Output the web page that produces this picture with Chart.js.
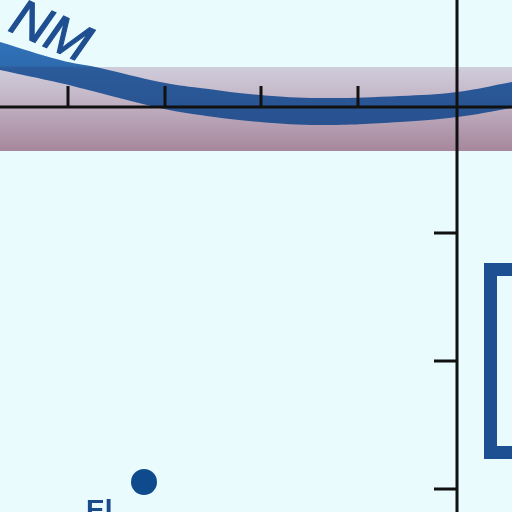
<!DOCTYPE html>
<html>
<head>
<meta charset="utf-8">
<script src="https://cdn.jsdelivr.net/npm/chart.js@4/dist/chart.umd.min.js"></script>
<style>
  html, body { margin: 0; padding: 0; background: #e9fbfd; }
  #wrap { width: 512px; height: 512px; }
</style>
</head>
<body>
<div id="wrap"><canvas id="chart" width="512" height="512"></canvas></div>
<script>
// Bande bleue (profil en x, bord haut et bord bas)
const bandX      = [0, 60, 100, 160, 200, 260, 320, 400, 457, 512];
const bandTop    = [42, 60, 68, 82, 88, 95, 98, 96, 92, 82];
const bandBottom = [70, 83, 93, 108, 115, 122, 125, 122, 117, 108];

// Bande mauve horizontale
const shelfX = [0, 512];
const shelfTop = 67;
const shelfBottom = 151;

// Axes et graduations
const axisY = 107;
const axisX = 457;
const tickXs = [68, 165, 261, 358];
const tickTop = 86;
const tickYs = [233, 361, 489];
const tickLeft = 434;

// Cadre bleu à droite
const boxX = [530, 490.5, 490.5, 530];
const boxY = [269.5, 269.5, 452.5, 452.5];

// Point
const dotX = [144];
const dotY = [482];

// Textes
const labels = ['NM', 'El'];
const labelX = [7, 86];
const labelY = [30, 519];

function pts(xs, ys) {
    return xs.map((x, i) => ({ x: x, y: ys[i] }));
}

// graduations séparées par des trous (null)
function tickSegments() {
    const out = [];
    tickXs.forEach(x => {
        out.push({ x: x, y: tickTop }, { x: x, y: axisY }, { x: x, y: null });
    });
    tickYs.forEach(y => {
        out.push({ x: tickLeft, y: y }, { x: axisX, y: y }, { x: null, y: null });
    });
    return out;
}

function shelfGradient(context) {
    const chart = context.chart;
    if (!chart.chartArea) return '#bba9bb';
    const y = chart.scales.y;
    const g = chart.ctx.createLinearGradient(0, y.getPixelForValue(shelfTop), 0, y.getPixelForValue(shelfBottom));
    g.addColorStop(0, '#cfcddb');
    g.addColorStop(0.35, '#c4b7c8');
    g.addColorStop(1, '#a6879c');
    return g;
}

function bandGradient(context) {
    const chart = context.chart;
    if (!chart.chartArea) return '#2b5c9c';
    const y = chart.scales.y;
    const g = chart.ctx.createLinearGradient(0, y.getPixelForValue(40), 0, y.getPixelForValue(125));
    g.addColorStop(0, '#3073b9');
    g.addColorStop(0.3, '#2e6aae');
    g.addColorStop(0.33, '#2b5b9b');
    g.addColorStop(1, '#28518f');
    return g;
}

const backgroundPlugin = {
    id: 'fond',
    beforeDraw(chart) {
        const c = chart.ctx;
        c.save();
        c.fillStyle = '#e9fbfd';
        c.fillRect(0, 0, chart.width, chart.height);
        c.restore();
    }
};

const textPlugin = {
    id: 'textes',
    afterDatasetsDraw(chart) {
        const c = chart.ctx;
        const sx = chart.scales.x, sy = chart.scales.y;
        c.save();
        c.fillStyle = '#1f4f91';
        // NM incliné
        c.translate(sx.getPixelForValue(labelX[0]), sy.getPixelForValue(labelY[0]));
        c.rotate(0.42);
        c.font = 'italic 52px "Liberation Sans"';
        c.textBaseline = 'alphabetic';
        c.lineWidth = 1.2;
        c.strokeStyle = '#1f4f91';
        c.fillText(labels[0], 0, 0);
        c.strokeText(labels[0], 0, 0);
        c.restore();

        c.save();
        c.fillStyle = '#1d4a8c';
        c.font = 'bold 28px "Liberation Sans"';
        c.fillText(labels[1], sx.getPixelForValue(labelX[1]), sy.getPixelForValue(labelY[1]));
        c.restore();
    }
};

new Chart(document.getElementById('chart'), {
    type: 'scatter',
    data: {
        datasets: [
            {   // bande mauve : haut
                data: pts(shelfX, [shelfTop, shelfTop]),
                showLine: true, borderWidth: 0, pointRadius: 0,
                backgroundColor: shelfGradient, fill: '+1', order: 10
            },
            {   // bande mauve : bas
                data: pts(shelfX, [shelfBottom, shelfBottom]),
                showLine: true, borderWidth: 0, pointRadius: 0, order: 10
            },
            {   // bande bleue : haut
                data: pts(bandX, bandTop),
                showLine: true, borderWidth: 0, pointRadius: 0, tension: 0.4,
                backgroundColor: bandGradient, fill: '+1', order: 8
            },
            {   // bande bleue : bas
                data: pts(bandX, bandBottom),
                showLine: true, borderWidth: 0, pointRadius: 0, tension: 0.4, order: 8
            },
            {   // axe horizontal
                data: pts([0, 512], [axisY, axisY]),
                showLine: true, borderColor: '#111', borderWidth: 3, pointRadius: 0, order: 2
            },
            {   // axe vertical
                data: pts([axisX, axisX], [0, 512]),
                showLine: true, borderColor: '#111', borderWidth: 3, pointRadius: 0, order: 2
            },
            {   // graduations
                data: tickSegments(),
                showLine: true, spanGaps: false, borderColor: '#111', borderWidth: 3,
                pointRadius: 0, order: 2
            },
            {   // cadre
                data: pts(boxX, boxY),
                showLine: true, borderColor: '#1d4f93', borderWidth: 13,
                borderJoinStyle: 'miter', pointRadius: 0, order: 3
            },
            {   // point
                data: pts(dotX, dotY),
                pointRadius: 13, pointBackgroundColor: '#0f4a8c',
                pointBorderWidth: 0, order: 1
            }
        ]
    },
    options: {
        responsive: false,
        animation: false,
        events: [],
        layout: { padding: 0, autoPadding: false },
        plugins: { legend: { display: false }, tooltip: { enabled: false } },
        scales: {
            x: { type: 'linear', min: 0, max: 512, display: false },
            y: { type: 'linear', min: 0, max: 512, reverse: true, display: false }
        }
    },
    plugins: [backgroundPlugin, textPlugin]
});
</script>
</body>
</html>
